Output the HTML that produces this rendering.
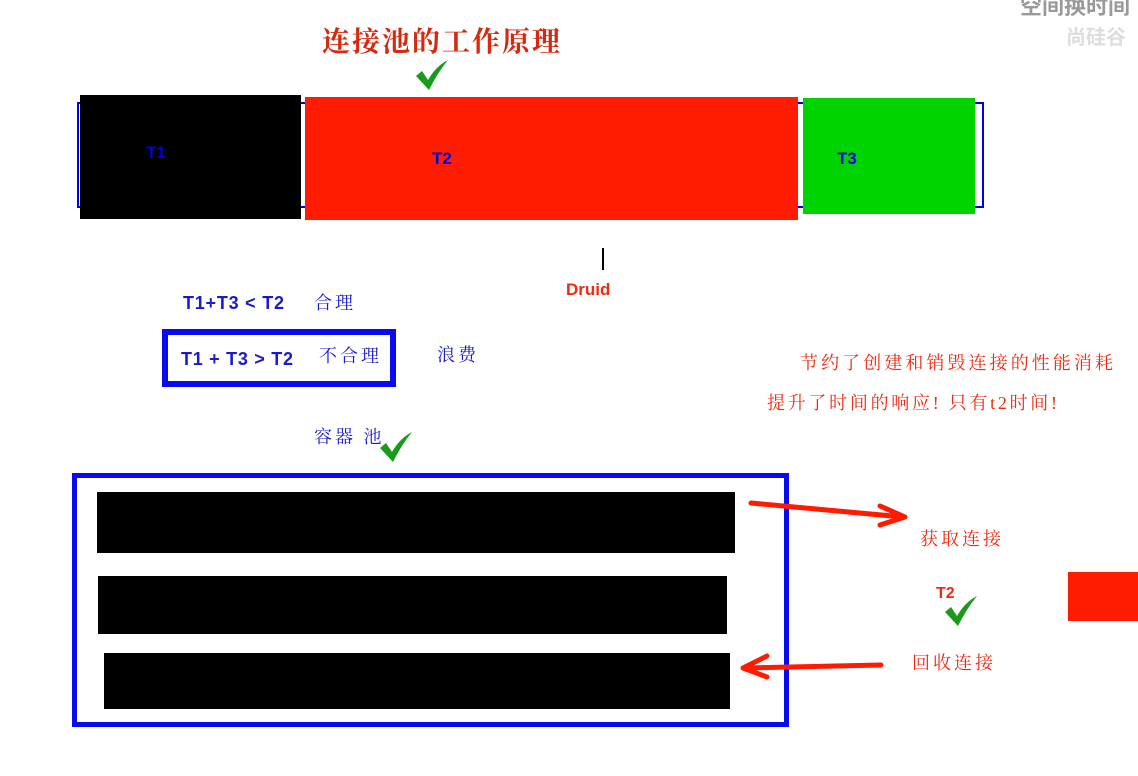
<!DOCTYPE html>
<html><head><meta charset="utf-8"><style>
html,body{margin:0;padding:0;background:#fff;width:1138px;height:776px;overflow:hidden}
svg{display:block}
.s{font-family:"Liberation Serif","Noto Serif CJK SC",serif}
.a{font-family:"Liberation Sans","Noto Sans CJK SC",sans-serif;font-weight:bold}
</style></head><body>
<svg width="1138" height="776" viewBox="0 0 1138 776" xmlns="http://www.w3.org/2000/svg">
<defs>
<path id="chk" d="M0,16 L6,11 L12,20 Q20,6 32,0 Q22,12 13,30 Z"/>
</defs>
<text x="1130" y="14" text-anchor="end" class="a" font-size="22" fill="#999">空间换时间</text>
<text x="1126" y="44" text-anchor="end" class="a" font-size="20" fill="#ddd">尚硅谷</text>
<text x="322" y="51" class="s" font-size="28" font-weight="bold" fill="#d42a10" letter-spacing="2">连接池的工作原理</text>
<use href="#chk" transform="translate(416,60)" fill="#1a9a1a"/>
<rect x="78" y="103" width="905" height="104" fill="none" stroke="#0000ee" stroke-width="2"/>
<rect x="80" y="95" width="221" height="124" fill="#000"/>
<rect x="305" y="97" width="493" height="123" fill="#ff1c00"/>
<rect x="803" y="98" width="172" height="116" fill="#00d400"/>
<text x="146" y="158" class="a" font-size="17" fill="#0000dd">T1</text>
<text x="432" y="164" class="a" font-size="17" fill="#0000dd">T2</text>
<text x="837" y="164" class="a" font-size="17" fill="#0000dd">T3</text>
<line x1="603" y1="248" x2="603" y2="270" stroke="#000" stroke-width="2"/>
<text x="566" y="295" class="a" font-size="17" fill="#ee2a10">Druid</text>
<text x="183" y="309" class="a" font-size="18" fill="#1a1acc" textLength="101">T1+T3 &lt; T2</text>
<text x="314" y="309" class="s" font-size="18" fill="#1a1acc" letter-spacing="3">合理</text>
<rect x="165" y="332" width="228" height="52" fill="none" stroke="#0a0aee" stroke-width="6"/>
<text x="181" y="365" class="a" font-size="18" fill="#1a1acc" textLength="112">T1 + T3 &gt; T2</text>
<text x="319" y="362" class="s" font-size="18" fill="#1a1acc" letter-spacing="3">不合理</text>
<text x="437" y="361" class="s" font-size="18" fill="#1a1acc" letter-spacing="3">浪费</text>
<text x="800" y="369" class="s" font-size="18" fill="#ee2a10" textLength="313">节约了创建和销毁连接的性能消耗</text>
<text x="767" y="409" class="s" font-size="18" fill="#ee2a10" textLength="290">提升了时间的响应! 只有t2时间!</text>
<text x="314" y="443" class="s" font-size="18" fill="#1a1acc" letter-spacing="3">容器 池</text>
<use href="#chk" transform="translate(380,432)" fill="#1a9a1a"/>
<rect x="74.5" y="475.5" width="712" height="249" fill="none" stroke="#0a0aee" stroke-width="5"/>
<rect x="97" y="492" width="638" height="61" fill="#000"/>
<rect x="98" y="576" width="629" height="58" fill="#000"/>
<rect x="104" y="653" width="626" height="56" fill="#000"/>
<g stroke="#ff1a00" stroke-width="5" fill="none" stroke-linecap="round" stroke-linejoin="round">
<path d="M751,503 L903,517"/><path d="M880,506 L905,517 L880,525"/>
<path d="M881,665 L745,668"/><path d="M767,656 L743,668 L767,677"/>
</g>
<text x="920" y="545" class="s" font-size="18" fill="#ee2a10" letter-spacing="3">获取连接</text>
<text x="936" y="598" class="a" font-size="16" fill="#ee2a10">T2</text>
<use href="#chk" transform="translate(945,596)" fill="#1a9a1a"/>
<text x="912" y="669" class="s" font-size="18" fill="#ee2a10" letter-spacing="3">回收连接</text>
<rect x="1068" y="572" width="70" height="49" fill="#ff1c00"/>
</svg>
</body></html>
